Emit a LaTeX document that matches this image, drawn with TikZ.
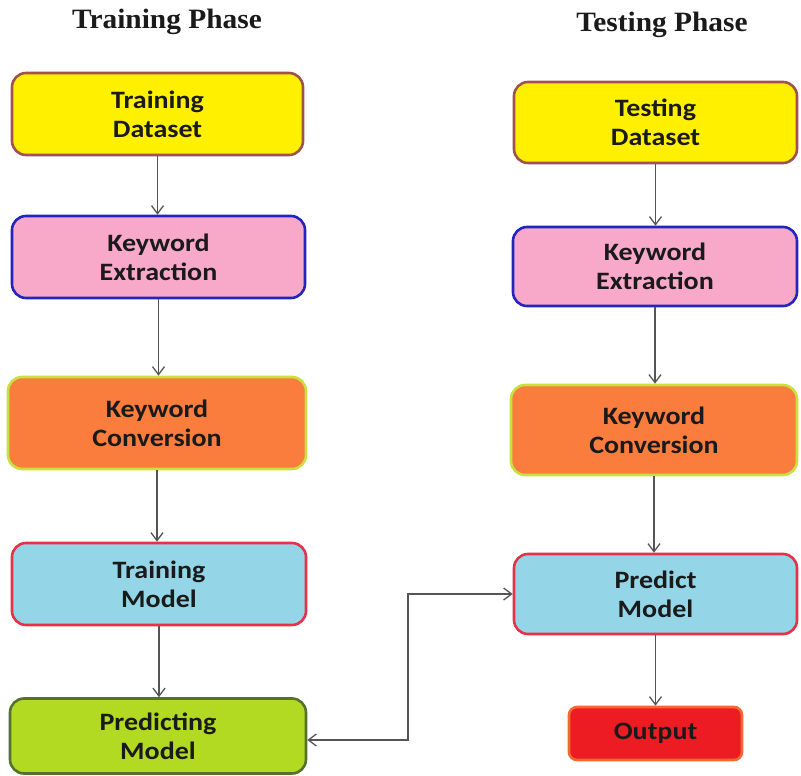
\documentclass[tikz,border=0pt]{standalone}
\usepackage{fontspec}
\setmainfont{Carlito}[FakeStretch=1.12]
\newfontfamily\titlefont{Liberation Serif}[FakeStretch=1.05]
\usetikzlibrary{arrows.meta}
\definecolor{ylwfill}{HTML}{FFF000}
\definecolor{ylwdraw}{HTML}{A0524D}
\definecolor{pinkfill}{HTML}{F8A8C8}
\definecolor{pinkdraw}{HTML}{2424C0}
\definecolor{orgfill}{HTML}{FA7D3E}
\definecolor{orgdraw}{HTML}{C8E040}
\definecolor{bluefill}{HTML}{94D6E8}
\definecolor{bluedraw}{HTML}{E83048}
\definecolor{grnfill}{HTML}{B2DA22}
\definecolor{grndraw}{HTML}{56702E}
\definecolor{redfill}{HTML}{EC1C22}
\definecolor{reddraw}{HTML}{F26A30}
\definecolor{linegray}{HTML}{555555}
\definecolor{txt}{HTML}{1A1A1A}
\tikzset{
  x=1pt, y=-1pt,
  box/.style={rectangle, rounded corners=14pt, line width=2.6pt, align=center,
    text=txt, font=\fontsize{25}{29}\selectfont\bfseries},
  ylwbox/.style={box, fill=ylwfill, draw=ylwdraw},
  pinkbox/.style={box, fill=pinkfill, draw=pinkdraw},
  orgbox/.style={box, fill=orgfill, draw=orgdraw},
  bluebox/.style={box, fill=bluefill, draw=bluedraw},
  grnbox/.style={box, fill=grnfill, draw=grndraw},
  redbox/.style={box, fill=redfill, draw=reddraw},
  flow/.style={draw=linegray, line width=1.3pt, -{Straight Barb[length=8pt,width=12pt]}},
  both/.style={draw=linegray, line width=1.3pt, {Straight Barb[length=8pt,width=12pt]}-{Straight Barb[length=8pt,width=12pt]}},
  ttl/.style={font=\titlefont\fontsize{28}{32}\selectfont\bfseries, text=txt}
}
\begin{document}
\begin{tikzpicture}
\useasboundingbox (0,0) rectangle (801,776);
\node[ttl] (t1) at (167,22) {Training Phase};
\node[ttl] (t2) at (662,25) {Testing Phase};
% left column
\node[ylwbox, minimum width=291pt, minimum height=82pt] (TD) at (157.5,114) {Training\\Dataset};
\node[pinkbox, minimum width=293pt, minimum height=82pt] (KE) at (158.5,257) {Keyword\\Extraction};
\node[orgbox, minimum width=298pt, minimum height=92pt] (KC) at (157,423) {Keyword\\Conversion};
\node[bluebox, minimum width=294pt, minimum height=82pt] (TM) at (159,584) {Training\\Model};
\node[grnbox, minimum width=296pt, minimum height=75pt] (PM) at (158,736) {Predicting\\Model};
% right column
\node[ylwbox, minimum width=283pt, minimum height=81pt] (TsD) at (655.5,122.5) {Testing\\Dataset};
\node[pinkbox, minimum width=284pt, minimum height=79pt] (KE2) at (655,266.5) {Keyword\\Extraction};
\node[orgbox, minimum width=286pt, minimum height=90pt] (KC2) at (654,430) {Keyword\\Conversion};
\node[bluebox, minimum width=283pt, minimum height=80pt] (PrM) at (655.5,594) {Predict\\Model};
\node[redbox, minimum width=173pt, minimum height=53pt, rounded corners=8pt] (Out) at (655.5,733.5) {Output};
% arrows left
\draw[flow] (TD.south) -- (TD.south |- KE.north);
\draw[flow] (KE.south) -- (KE.south |- KC.north);
\draw[flow] (KC.south) -- (KC.south |- TM.north);
\draw[flow] (TM.south) -- (TM.south |- PM.north);
% arrows right
\draw[flow] (TsD.south) -- (TsD.south |- KE2.north);
\draw[flow] (KE2.south) -- (KE2.south |- KC2.north);
\draw[flow] (KC2.south) -- (KC2.south |- PrM.north);
\draw[flow] (PrM.south) -- (PrM.south |- Out.north);
% cross connector
\coordinate (mid) at (408,740);
\draw[both] (PM.east |- mid) -- (mid) |- (PrM.west);
\end{tikzpicture}
\end{document}
